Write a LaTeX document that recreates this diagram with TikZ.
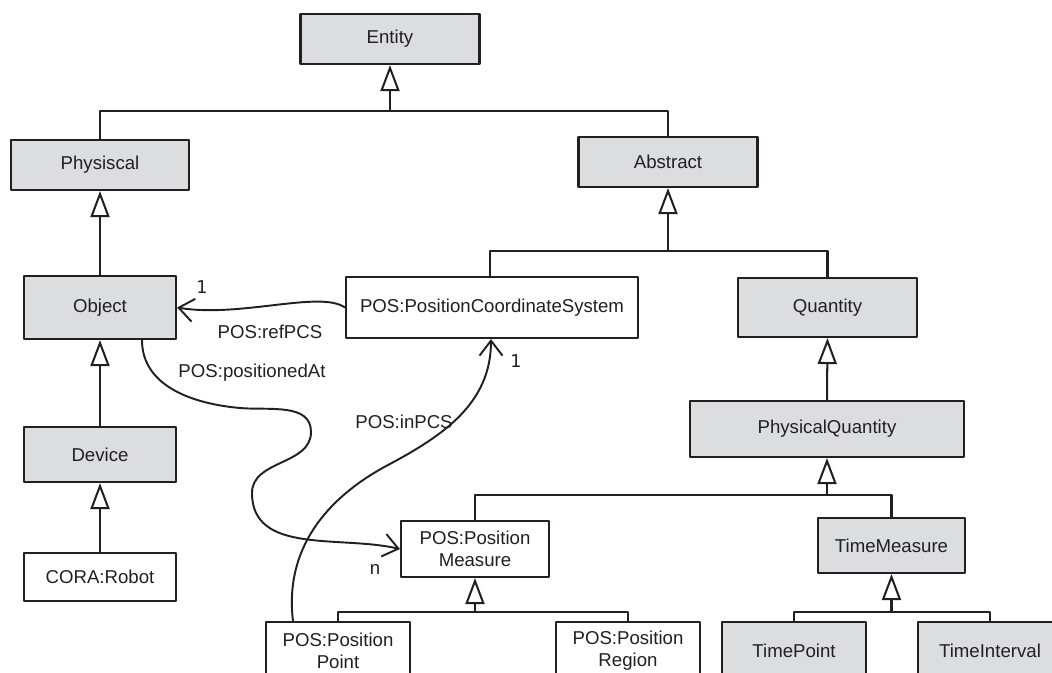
\documentclass[tikz,border=0pt]{standalone}
\usepackage{fontspec}
\setmainfont{Liberation Sans}
\newfontfamily\numfont{DejaVu Sans}
\usetikzlibrary{arrows.meta}
\definecolor{boxgray}{RGB}{220,221,223}
\definecolor{ink}{RGB}{35,31,32}
\tikzset{
  cls/.style={draw=ink,fill=boxgray,line width=1.2pt,inner sep=0pt,align=center},
  inst/.style={cls,fill=white},
  tree/.style={draw=ink,line width=1.15pt},
  gen/.style={tree,-{Triangle[length=0.52cm,width=0.38cm,fill=white]}},
  assoc/.style={draw=ink,line width=1.1pt,-{Straight Barb[length=0.3cm,width=0.46cm]}}
}
\begin{document}
\begin{tikzpicture}[x=0.02cm,y=-0.02cm,line join=round,
    font=\fontsize{10.6}{12.5}\selectfont,every node/.append style={text=ink}]
  \useasboundingbox (0,0) rectangle (1052,673);
  \clip (0,0) rectangle (1052,673);

  % classes
  \node[cls,minimum width=3.58cm,minimum height=1cm] (ent) at (390,39) {Entity};
  \node[cls,minimum width=3.56cm,minimum height=1cm] (phys) at (100,165) {Physiscal};
  \node[cls,minimum width=3.58cm,minimum height=1cm] (abs) at (668,162) {Abstract};
  \node[cls,minimum width=3.04cm,minimum height=1.26cm] (obj) at (100,307.5) {Object};
  \node[inst,minimum width=5.84cm,minimum height=1.22cm] (pcs) at (492,307.5) {POS:PositionCoordinateSystem};
  \node[cls,minimum width=3.58cm,minimum height=1.18cm] (qty) at (827.5,307.5) {Quantity};
  \node[cls,minimum width=3.04cm,minimum height=1.1cm] (dev) at (100,454.5) {Device};
  \node[inst,minimum width=3.04cm,minimum height=0.96cm] (robot) at (100,577) {CORA:Robot};
  \node[cls,minimum width=5.48cm,minimum height=1.12cm] (pq) at (827,429) {PhysicalQuantity};
  \node[inst,minimum width=2.96cm,minimum height=1.12cm] (pm) at (475,549) {POS:Position\\Measure};
  \node[cls,minimum width=2.94cm,minimum height=1.1cm] (tm) at (891.5,545.5) {TimeMeasure};
  \node[inst,minimum width=2.88cm,minimum height=1.16cm] (ppt) at (338,651) {POS:Position\\Point};
  \node[inst,minimum width=2.88cm,minimum height=1.16cm] (preg) at (628,651) {POS:Position\\Region};
  \node[cls,minimum width=2.88cm,minimum height=1.16cm] (tpt) at (794,651) {TimePoint};
  \node[cls,minimum width=2.88cm,minimum height=1.16cm] (tint) at (990,651) {TimeInterval};

  % generalisation
  \draw[tree] (phys.north) |- (ent.south |- 0,111) -| (abs.north);
  \draw[gen] (ent.south |- 0,111) -- (ent.south);
  \draw[tree] (pcs.north -| 490,0) |- (abs.south |- 0,251) -| (qty.north);
  \draw[gen] (abs.south |- 0,251) -- (abs.south);
  \draw[gen] (obj.north) -- (phys.south);
  \draw[gen] (dev.north) -- (obj.south);
  \draw[gen] (robot.north) -- (dev.south);
  \draw[gen] (pq.north) -- (qty.south);
  \draw[tree] (pm.north) |- (pq.south |- 0,495) -| (tm.north);
  \draw[gen] (pq.south |- 0,495) -- (pq.south);
  \draw[tree] (ppt.north) |- (pm.south |- 0,612) -| (preg.north);
  \draw[gen] (pm.south |- 0,612) -- (pm.south);
  \draw[tree] (tpt.north) |- (tm.south |- 0,612) -| (tint.north);
  \draw[gen] (tm.south |- 0,612) -- (tm.south);

  % associations
  \draw[assoc] (pcs.west) .. controls (320,290) and (240,318) .. (obj.east);
  \draw[assoc] (obj.south -| 142,0) to[out=-90,in=175] (240,408)
    to[out=-5,in=90] (311,432) to[out=-90,in=90] (252,493)
    to[out=-90,in=167] (pm.west);
  \draw[assoc] (ppt.north -| 293,0) to[out=97,in=-152] (388,465)
    to[out=28,in=-90] (pcs.south -| 491,0);

  % labels
  \node[font=\numfont\fontsize{10}{12}\selectfont] (m1) at (202,287) {1};
  \node (lref) at (270,332) {POS:refPCS};
  \node (lpos) at (252,373) {POS:positionedAt};
  \node (mn) at (375,569) {n};
  \node (lin) at (404,422) {POS:inPCS};
  \node[font=\numfont\fontsize{10}{12}\selectfont] (m2) at (516,361) {1};
\end{tikzpicture}
\end{document}
